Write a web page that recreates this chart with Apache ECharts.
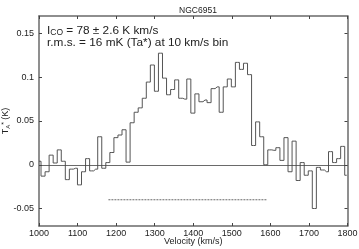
<!DOCTYPE html>
<html>
<head>
<meta charset="utf-8">
<script src="https://cdn.jsdelivr.net/npm/echarts@6/dist/echarts.min.js"></script>
<style>
html,body{margin:0;padding:0;background:#fff;}
#chart{width:359px;height:249px;}
</style>
</head>
<body>
<div id="chart"></div>
<script>
// Bin centre velocities (km/s)
var velocities = [1000, 1010.5, 1021, 1031.5, 1042, 1052.5, 1063, 1073.5, 1084, 1094.5,
  1105, 1115.5, 1126, 1136.5, 1147, 1157.5, 1168, 1178.5, 1189, 1199.5,
  1210, 1220.5, 1231, 1241.5, 1252, 1262.5, 1273, 1283.5, 1294, 1304.5,
  1315, 1325.5, 1336, 1346.5, 1357, 1367.5, 1378, 1388.5, 1399, 1409.5,
  1420, 1430.5, 1441, 1451.5, 1462, 1472.5, 1483, 1493.5, 1504, 1514.5,
  1525, 1535.5, 1546, 1556.5, 1567, 1577.5, 1588, 1598.5, 1609, 1619.5,
  1630, 1640.5, 1651, 1661.5, 1672, 1682.5, 1693, 1703.5, 1714, 1724.5,
  1735, 1745.5, 1756, 1766.5, 1777, 1787.5, 1798];
// Antenna temperature Ta* (K)
var temperatures = [0.004, -0.013, -0.008, 0.011, 0.002, 0.017, 0.004, -0.017, -0.005, -0.004,
  -0.023, -0.008, 0.007, -0.007, -0.005, 0.032, -0.004, 0.0025, 0.014, 0.031,
  0.034, 0.040, 0.003, 0.048, 0.060, 0.065, 0.076, 0.0945, 0.114, 0.084,
  0.1275, 0.099, 0.080, 0.086, 0.097, 0.076, 0.075, 0.098, 0.059, 0.081,
  0.072, 0.074, 0.071, 0.087, 0.089, 0.060, 0.089, 0.098, 0.089, 0.117,
  0.109, 0.116, 0.103, 0.022, 0.049, 0.032, 0.000, 0.017, 0.0165, 0.0195,
  0.005, 0.031, -0.008, 0.027, -0.018, 0.0025, -0.012, -0.007, -0.050, -0.003,
  -0.006, -0.008, 0.015, 0.0025, 0.007, 0.021, -0.012];
// Integration range marker (dashed line)
var integrationRange = [1180, 1590];
var integrationLevel = -0.04;
// Ticks
var xTicks = [1000, 1100, 1200, 1300, 1400, 1500, 1600, 1700, 1800];
var yTicks = [-0.05, 0, 0.05, 0.1, 0.15];
var yTickLabels = ['-0.05', '0', '0.05', '0.1', '0.15'];
var titleText = 'NGC6951';
var xName = 'Velocity (km/s)';

var FONT = 'Liberation Sans, Arial, sans-serif';
var specData = velocities.map(function (v, i) { return [v, temperatures[i]]; });
var rangeData = integrationRange.map(function (v) { return [v, integrationLevel]; });

function yLabel(v) {
  for (var i = 0; i < yTicks.length; i++) {
    if (Math.abs(yTicks[i] - v) < 1e-9) return yTickLabels[i];
  }
  return '';
}

var chart = echarts.init(document.getElementById('chart'), null, {renderer: 'canvas'});
var axisLineStyle = {color: '#6a6a6a', width: 1.5};
var tickStyle = {color: '#444', width: 1};
var option = {
  animation: false,
  backgroundColor: '#fff',
  title: {
    text: titleText,
    left: 193, top: 1, textAlign: 'center',
    textStyle: {fontFamily: FONT, fontSize: 8.5, fontWeight: 'normal', color: '#222'}
  },
  grid: {left: 39, right: 11.5, top: 16, bottom: 23, containLabel: false, outerBoundsMode: 'none'},
  xAxis: [{
    type: 'value', min: 1000, max: 1800, interval: 100, position: 'bottom',
    name: xName, nameLocation: 'middle', nameGap: 11, nameMoveOverlap: false,
    nameTextStyle: {fontFamily: FONT, fontSize: 9, color: '#222'},
    axisLine: {show: true, onZero: false, lineStyle: axisLineStyle},
    axisTick: {show: true, inside: true, length: 3, customValues: xTicks, lineStyle: tickStyle},
    axisLabel: {fontFamily: FONT, fontSize: 9, color: '#222', margin: 3, customValues: xTicks,
      formatter: function (v) { return String(v); }},
    splitLine: {show: false}
  }, {
    type: 'value', min: 1000, max: 1800, interval: 100, position: 'top',
    axisLine: {show: true, onZero: false, lineStyle: axisLineStyle},
    axisTick: {show: true, inside: true, length: 3, customValues: xTicks, lineStyle: tickStyle},
    axisLabel: {show: false},
    splitLine: {show: false}
  }],
  yAxis: [{
    type: 'value', min: -0.07, max: 0.17, position: 'left',
    name: '{t|T}{s|A}{p|*}{t| (K)}', nameLocation: 'middle', nameGap: 28, nameRotate: 90,
    nameMoveOverlap: false,
    nameTextStyle: {
      fontFamily: FONT, fontSize: 9, color: '#222',
      rich: {
        t: {fontFamily: FONT, fontSize: 9, color: '#222'},
        s: {fontFamily: FONT, fontSize: 6, color: '#222', verticalAlign: 'bottom', padding: [3, 0, 0, 0]},
        p: {fontFamily: FONT, fontSize: 7, color: '#222', verticalAlign: 'top', padding: [0, 0, 3, 0]}
      }
    },
    axisLine: {show: true, onZero: false, lineStyle: axisLineStyle},
    axisTick: {show: true, inside: true, length: 3, customValues: yTicks, lineStyle: tickStyle},
    axisLabel: {fontFamily: FONT, fontSize: 9, color: '#222', margin: 5, customValues: yTicks,
      showMinLabel: true, showMaxLabel: true, formatter: yLabel},
    splitLine: {show: false}
  }, {
    type: 'value', min: -0.07, max: 0.17, position: 'right',
    axisLine: {show: true, onZero: false, lineStyle: axisLineStyle},
    axisTick: {show: true, inside: true, length: 3, customValues: yTicks, lineStyle: tickStyle},
    axisLabel: {show: false},
    splitLine: {show: false}
  }],
  graphic: [{
    type: 'text', left: 47, top: 25, silent: true,
    style: {
      text: '{m|I}{s|CO}{m| = 78 ± 2.6 K km/s}',
      rich: {
        m: {fontFamily: FONT, fontSize: 11.8, fill: '#222'},
        s: {fontFamily: FONT, fontSize: 8.5, fill: '#222', verticalAlign: 'bottom'}
      }
    }
  }, {
    type: 'text', left: 47, top: 37, silent: true,
    style: {
      text: 'r.m.s. = 16 mK (Ta*) at 10 km/s bin',
      font: '11.8px ' + FONT, fill: '#222'
    }
  }],
  series: [{
    type: 'line', name: 'spectrum', step: 'middle',
    data: specData, showSymbol: false, symbol: 'none', clip: true,
    lineStyle: {color: '#555', width: 1},
    markLine: {
      silent: true, symbol: 'none', animation: false,
      label: {show: false},
      lineStyle: {color: '#444', width: 0.8, type: 'solid'},
      data: [{yAxis: 0}]
    },
    z: 3
  }, {
    type: 'line', name: 'range', data: rangeData, showSymbol: false, symbol: 'none',
    lineStyle: {color: '#444', width: 0.8, type: [2, 1]},
    z: 2
  }]
};
chart.setOption(option);
</script>
</body>
</html>
